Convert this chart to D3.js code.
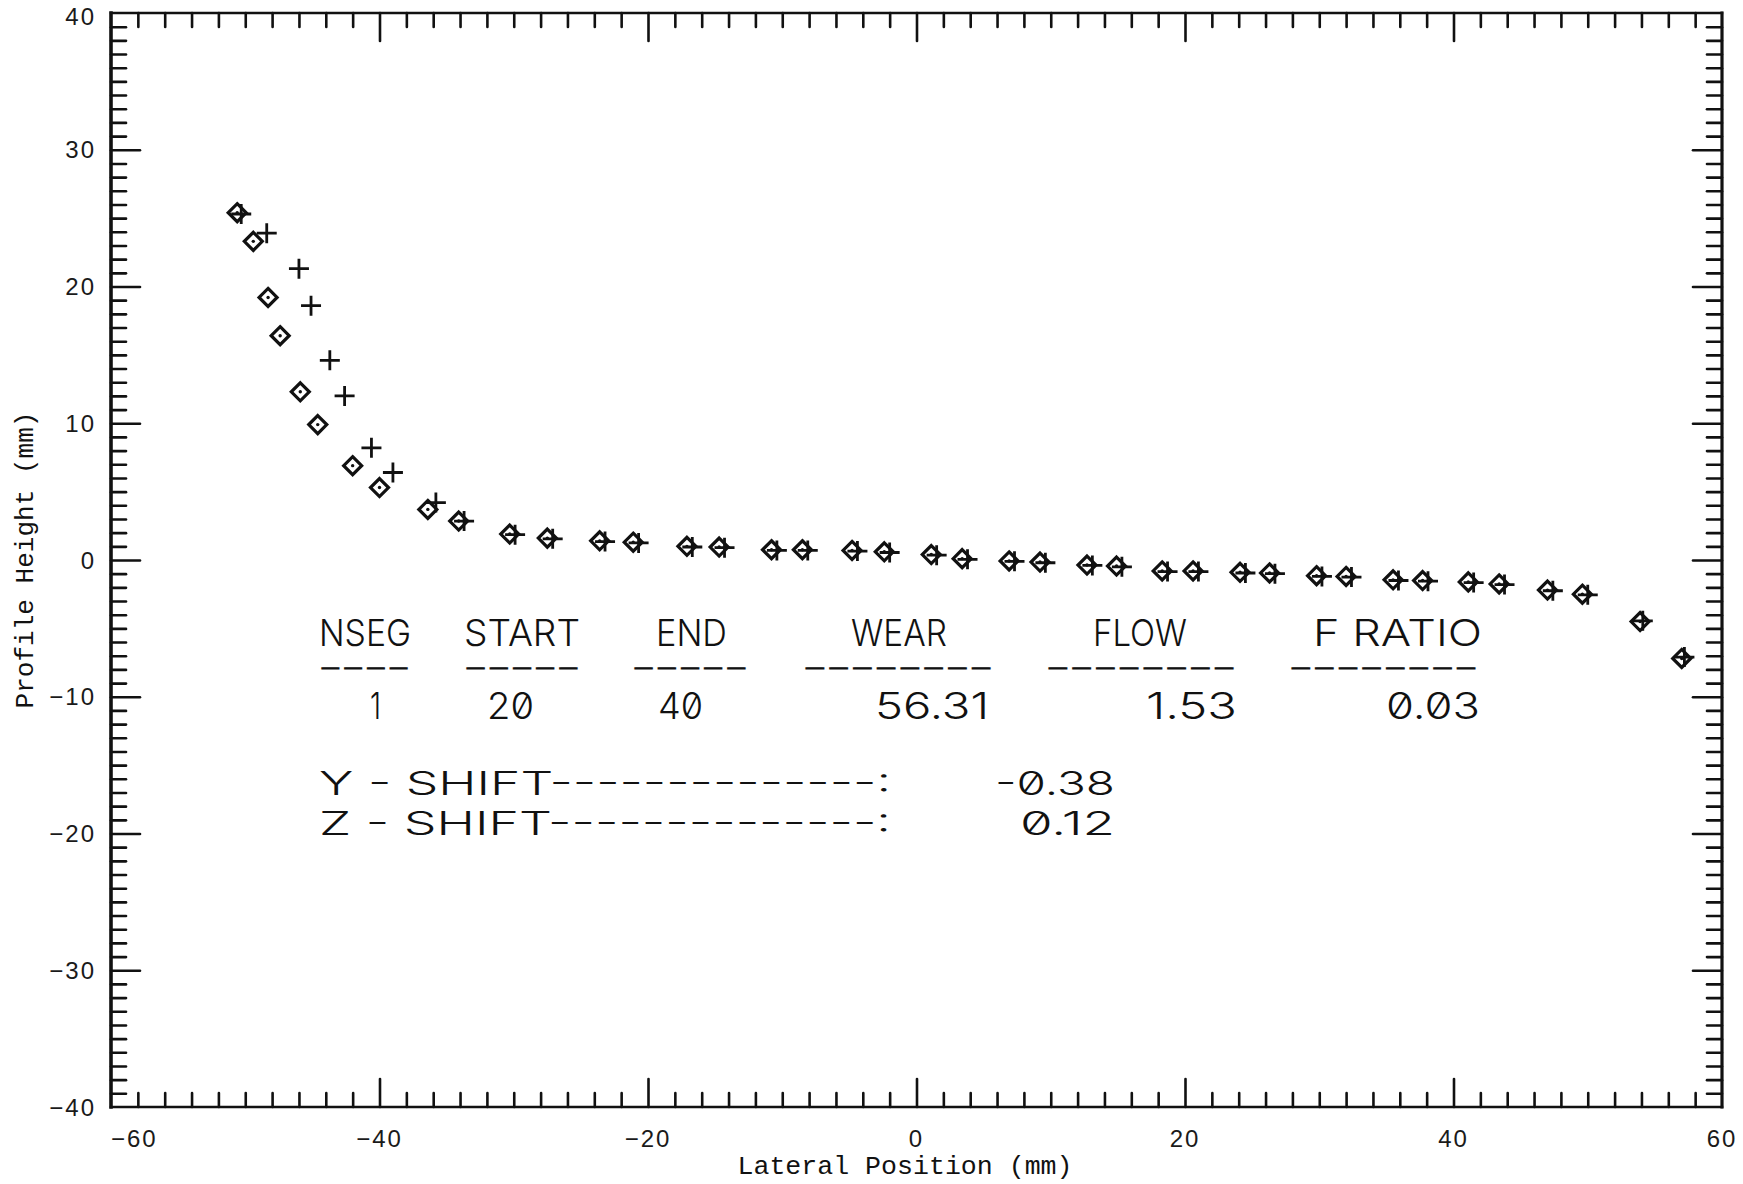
<!DOCTYPE html>
<html>
<head>
<meta charset="utf-8">
<script src="https://cdn.jsdelivr.net/npm/d3@7"></script>
<style>
  html, body { margin: 0; padding: 0; background: #fff; }
  svg { display: block; }
  .tick-label { font-family: "Liberation Sans", "DejaVu Sans", sans-serif; font-size: 24px; fill: #1a1a1a; }
  .axis-title { font-family: "Liberation Mono", "DejaVu Sans Mono", monospace; font-size: 26px; fill: #111; }
  .plot-text { font-family: "Inter", "Liberation Sans", sans-serif; font-weight: 300; fill: #111;
               font-feature-settings: "zero" 1; }
</style>
</head>
<body>
<svg id="chart" width="1743" height="1184"></svg>
<script>
// Measured profile (diamonds) and reference profile (crosses), lateral position vs height in mm
const diamondX = [-50.6, -49.4, -48.3, -47.4, -45.9, -44.6, -42.0, -40.0, -36.4, -34.1,
                  -30.3, -27.5, -23.6, -21.1, -17.1, -14.7, -10.8, -8.5, -4.8, -2.4,
                  1.1, 3.4, 6.9, 9.2, 12.7, 14.9, 18.3, 20.6, 24.1, 26.3,
                  29.8, 32.0, 35.5, 37.7, 41.1, 43.4, 47.0, 49.6, 53.9, 57.0];
const diamondY = [25.4, 23.3, 19.2, 16.4, 12.3, 9.9, 6.9, 5.3, 3.7, 2.85,
                  1.9, 1.6, 1.4, 1.3, 1.0, 0.95, 0.75, 0.75, 0.7, 0.6,
                  0.4, 0.1, -0.07, -0.15, -0.37, -0.44, -0.8, -0.8, -0.9, -0.95,
                  -1.15, -1.2, -1.45, -1.5, -1.6, -1.75, -2.2, -2.5, -4.5, -7.2];
const plusX = [-50.3, -48.4, -46.0, -45.1, -43.7, -42.6, -40.6, -39.0, -35.8, -33.7,
               -29.9, -27.1, -23.2, -20.7, -16.7, -14.3, -10.4, -8.1, -4.4, -2.0,
               1.5, 3.8, 7.3, 9.6, 13.1, 15.3, 18.7, 21.0, 24.5, 26.7,
               30.2, 32.4, 35.9, 38.1, 41.5, 43.8, 47.4, 50.0, 54.1, 57.2];
const plusY = [25.3, 23.9, 21.3, 18.6, 14.6, 12.0, 8.2, 6.4, 4.2, 2.85,
               1.85, 1.55, 1.35, 1.25, 0.95, 0.9, 0.7, 0.7, 0.65, 0.55,
               0.35, 0.05, -0.1, -0.2, -0.4, -0.5, -0.85, -0.85, -0.95, -1.0,
               -1.2, -1.25, -1.5, -1.55, -1.65, -1.8, -2.25, -2.55, -4.45, -7.1];

const xMajorTicks = [-60, -40, -20, 0, 20, 40, 60];
const yMajorTicks = [-40, -30, -20, -10, 0, 10, 20, 30, 40];
const xTitle = "Lateral Position (mm)";
const yTitle = "Profile Height (mm)";

// Segment summary printed inside the plot
const tableHeaders = ["NSEG", "START", "END", "WEAR", "FLOW", "F RATIO"];
const tableRules = ["----", "-----", "-----", "--------", "--------", "--------"];
const tableValues = ["1", "20", "40", "56.31", "1.53", "0.03"];
const shiftLabels = ["Y - SHIFT--------------:", "Z - SHIFT--------------:"];
const shiftValues = ["-0.38", "0.12"];

const svg = d3.select("#chart");
const ink = "#111";

const x = d3.scaleLinear().domain([-60, 60]).range([111, 1722]);
const y = d3.scaleLinear().domain([-40, 40]).range([1107, 13]);
const [x0, x1] = x.range();
const [y0, y1] = y.range();

// Minor ticks every 2 mm on x, every 1 mm on y; longer ticks at labelled values
const xMinor = d3.range(-60, 61, 2).filter(v => !xMajorTicks.includes(v));
const yMinor = d3.range(-40, 41, 1).filter(v => !yMajorTicks.includes(v));

function styleAxis(g) {
  g.select(".domain").remove();
  g.selectAll("line").attr("stroke", ink).attr("stroke-width", 2.6).attr("stroke-linecap", "round");
  g.selectAll("text").remove();
}

const axes = svg.append("g");
// bottom
axes.append("g").attr("transform", `translate(0,${y0})`)
  .call(d3.axisBottom(x).tickValues(xMinor).tickSizeInner(-14).tickSizeOuter(0)).call(styleAxis);
axes.append("g").attr("transform", `translate(0,${y0})`)
  .call(d3.axisBottom(x).tickValues(xMajorTicks.slice(1, -1)).tickSizeInner(-28).tickSizeOuter(0)).call(styleAxis);
// top
axes.append("g").attr("transform", `translate(0,${y1})`)
  .call(d3.axisTop(x).tickValues(xMinor).tickSizeInner(-14).tickSizeOuter(0)).call(styleAxis);
axes.append("g").attr("transform", `translate(0,${y1})`)
  .call(d3.axisTop(x).tickValues(xMajorTicks.slice(1, -1)).tickSizeInner(-28).tickSizeOuter(0)).call(styleAxis);
// left
axes.append("g").attr("transform", `translate(${x0},0)`)
  .call(d3.axisLeft(y).tickValues(yMinor).tickSizeInner(-15).tickSizeOuter(0)).call(styleAxis);
axes.append("g").attr("transform", `translate(${x0},0)`)
  .call(d3.axisLeft(y).tickValues(yMajorTicks.slice(1, -1)).tickSizeInner(-29).tickSizeOuter(0)).call(styleAxis);
// right
axes.append("g").attr("transform", `translate(${x1},0)`)
  .call(d3.axisRight(y).tickValues(yMinor).tickSizeInner(-15).tickSizeOuter(0)).call(styleAxis);
axes.append("g").attr("transform", `translate(${x1},0)`)
  .call(d3.axisRight(y).tickValues(yMajorTicks.slice(1, -1)).tickSizeInner(-29).tickSizeOuter(0)).call(styleAxis);

// Frame
const frame = svg.append("g").attr("stroke", ink).attr("stroke-linecap", "square");
frame.append("line").attr("x1", x0).attr("x2", x1).attr("y1", y1).attr("y2", y1).attr("stroke-width", 2.4);
frame.append("line").attr("x1", x0).attr("x2", x1).attr("y1", y0).attr("y2", y0).attr("stroke-width", 2.6);
frame.append("line").attr("x1", x0).attr("x2", x0).attr("y1", y1).attr("y2", y0).attr("stroke-width", 3.6);
frame.append("line").attr("x1", x1).attr("x2", x1).attr("y1", y1).attr("y2", y0).attr("stroke-width", 3.2);

// Tick labels
svg.append("g").selectAll("text").data(xMajorTicks).join("text")
  .attr("class", "tick-label")
  .attr("x", d => x(d))
  .attr("y", y0 + 40)
  .attr("text-anchor", (d, i) => i === 0 ? "start" : "middle")
  .attr("letter-spacing", 2)
  .text(d => d3.format("")(d));

svg.append("g").selectAll("text").data(yMajorTicks).join("text")
  .attr("class", "tick-label")
  .attr("x", x0 - 15)
  .attr("y", d => y(d))
  .attr("dy", d => d === 40 ? "0.5em" : "0.36em")
  .attr("text-anchor", "end")
  .attr("letter-spacing", 2)
  .text(d => d3.format("")(d));

// Axis titles
svg.append("text").attr("class", "axis-title")
  .attr("x", 905).attr("y", 1174)
  .attr("text-anchor", "middle")
  .attr("textLength", 335).attr("lengthAdjust", "spacingAndGlyphs")
  .text(xTitle);
svg.append("text").attr("class", "axis-title")
  .attr("transform", `translate(33,${(y0 + y1) / 2}) rotate(-90)`)
  .attr("text-anchor", "middle")
  .attr("textLength", 297).attr("lengthAdjust", "spacingAndGlyphs")
  .text(yTitle);

// Markers
const points = svg.append("g");
const diamonds = d3.range(diamondX.length).map(i => [x(diamondX[i]), y(diamondY[i])]);
const pluses = d3.range(plusX.length).map(i => [x(plusX[i]), y(plusY[i])]);
const dh = 9;
points.selectAll("path.diamond").data(diamonds).join("path")
  .attr("class", "diamond")
  .attr("d", d => `M${d[0]},${d[1] - dh}L${d[0] + dh},${d[1]}L${d[0]},${d[1] + dh}L${d[0] - dh},${d[1]}Z`)
  .attr("fill", "none").attr("stroke", ink).attr("stroke-width", 3.2).attr("stroke-linejoin", "miter");
points.selectAll("circle").data(diamonds).join("circle")
  .attr("cx", d => d[0]).attr("cy", d => d[1]).attr("r", 1.7).attr("fill", ink);
const ph = 10;
points.selectAll("path.plus").data(pluses).join("path")
  .attr("class", "plus")
  .attr("d", d => `M${d[0] - ph},${d[1]}H${d[0] + ph}M${d[0]},${d[1] - ph}V${d[1] + ph}`)
  .attr("fill", "none").attr("stroke", ink).attr("stroke-width", 2.8);

// Segment summary table
const table = svg.append("g");
const colStart = [319, 464, 656, 851, 1093, 1313];
const colWidth = [92, 116, 71, 96, 94, 169];
const ruleStart = [319, 464, 632, 803, 1046, 1289];
const ruleWidth = [91, 116, 116, 190, 190, 189];
const valueEnd = [381, 534, 703, 989, 1237, 1480];
const valueWidth = [11, 47, 45, 114, 91, 94];

function fitted(sel, text, xs, yb, w, size, weight) {
  return sel.append("text").attr("class", "plot-text")
    .attr("x", xs).attr("y", yb)
    .attr("font-size", size)
    .attr("font-weight", weight || 300)
    .attr("textLength", w).attr("lengthAdjust", "spacingAndGlyphs")
    .text(text);
}
tableHeaders.forEach((t, i) => fitted(table, t, colStart[i], 646, colWidth[i], 37));
tableRules.forEach((t, i) => fitted(table, t, ruleStart[i], 674, ruleWidth[i], 19, 700)
  .attr("stroke", ink).attr("stroke-width", 1.1));
tableValues.forEach((t, i) => fitted(table, t, valueEnd[i] - valueWidth[i], 719, valueWidth[i], 37));

const shiftBase = [795, 835];
const shiftValueStart = [995, 1020];
const shiftValueWidth = [120, 95];
shiftLabels.forEach((t, i) => fitted(table, t, 319, shiftBase[i], 572, 33));
shiftValues.forEach((t, i) => fitted(table, t, shiftValueStart[i], shiftBase[i], shiftValueWidth[i], 33));
</script>
</body>
</html>
